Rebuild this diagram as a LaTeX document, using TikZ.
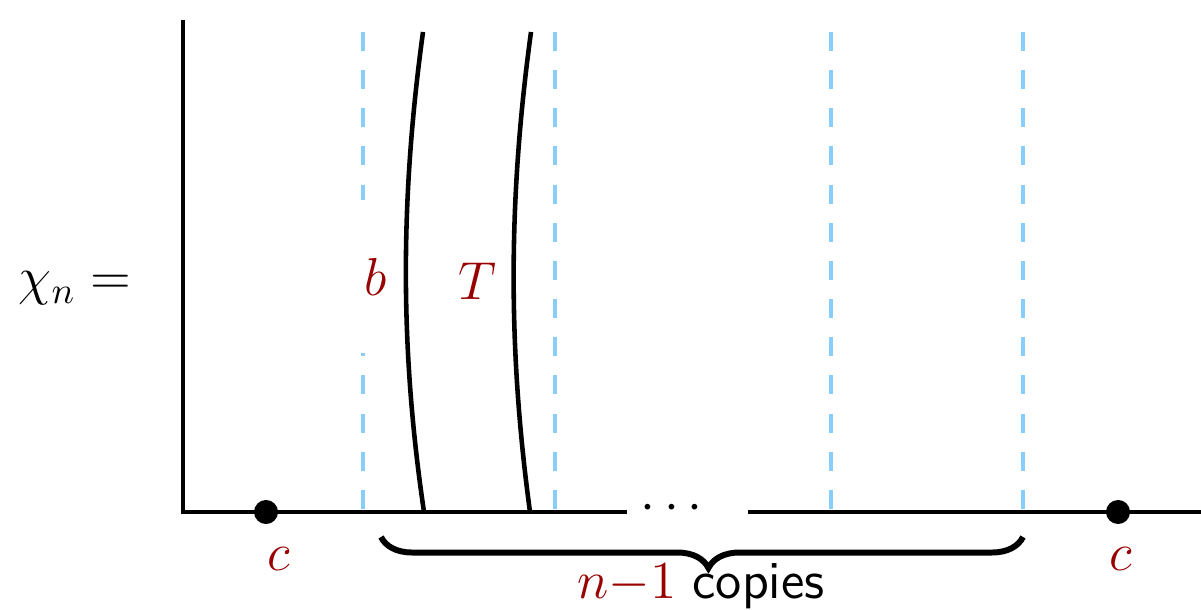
\documentclass[tikz,border=0pt]{standalone}
\usepackage{fix-cm}
\usepackage{amsmath}
\usepackage{tikz}
\usetikzlibrary{decorations.pathreplacing, positioning, calc}
\definecolor{CutBlue}{RGB}{135,206,250}
\definecolor{LabelRed}{RGB}{153,0,0}

\begin{document}
\begin{tikzpicture}[
        x=0.01cm, y=-0.01cm,
        font=\fontsize{15.2}{18}\selectfont,
        base/.style={line width=1.3pt, black},
        cut/.style={line width=1.4pt, CutBlue, dash pattern=on 5.4pt off 5.45pt},
        strand/.style={line width=1.3pt, black},
        pt/.style={circle, fill=black, inner sep=0pt, minimum size=0.24cm},
        lbl/.style={text=LabelRed},
        brc/.style={decorate, decoration={brace, amplitude=0.31cm, aspect=0.49}, line width=1.7pt}
    ]
    \useasboundingbox (0,0) rectangle (1201,610);

    % axis corners
    \coordinate (top)  at (183,20);
    \coordinate (orig) at (183,512);
    \coordinate (gapl) at (627,512);
    \coordinate (gapr) at (748,512);
    \coordinate (rgt)  at (1201,512);

    % dashed cuts
    \foreach \x [count=\i] in {363,555,831,1023} {
        \coordinate (cut\i t) at (\x,32);
        \coordinate (cut\i b) at (\x,512);
        \draw[cut] (cut\i t) -- (cut\i b);
    }

    \node[lbl, fill=white, minimum width=0.4cm, minimum height=1.53cm] (b) at (376,276.5) {$b$};
    \node[lbl] (T) at (477,281) {$T$};

    % strands
    \coordinate (s1t) at (423,32);
    \coordinate (s1b) at (424,512);
    \coordinate (s2t) at (531,32);
    \coordinate (s2b) at (530,512);
    \draw[strand] (s1t) .. controls (400,200) and (400,350) .. (s1b);
    \draw[strand] (s2t) .. controls (508,200) and (508,350) .. (s2b);

    \draw[base] (top) -- (orig) -- (gapl);
    \draw[base] (gapr) -- (rgt);
    \node[inner sep=0pt] (dots) at (676,509) {$\cdots$};

    \node[pt] (c1) at (266,512) {};
    \node[pt] (c2) at (1118,512) {};
    \node[lbl, anchor=base] (c1l) at (279,570) {$c$};
    \node[lbl, anchor=base] (c2l) at (1121,570) {$c$};

    \node[anchor=base] (chi) at (75,295) {$\chi_n =$};

    \coordinate (brr) at (1023,537);
    \coordinate (brl) at (381,537);
    \draw[brc] (brr) -- (brl);
    \node[anchor=base] (copies) at (701,598) {$\textcolor{LabelRed}{n{-}1}$ \textsf{copies}};
\end{tikzpicture}
\end{document}
